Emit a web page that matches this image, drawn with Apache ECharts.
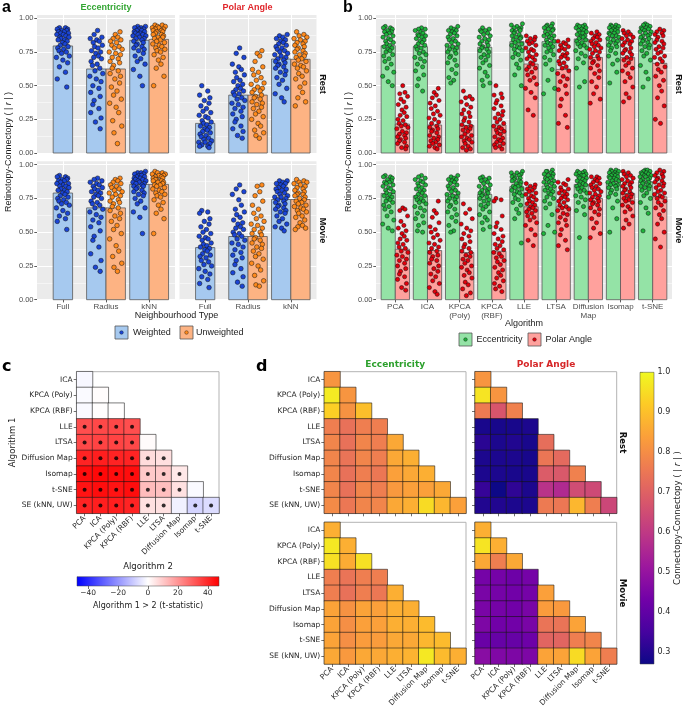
<!DOCTYPE html>
<html><head><meta charset="utf-8">
<script src="https://cdn.jsdelivr.net/npm/echarts@6/dist/echarts.min.js"></script>
<style>html,body{margin:0;padding:0;background:#fff}#c{width:685px;height:716px}</style>
</head><body><div id="c"></div>
<script>
// ---------------- DATA ----------------
const aCats = ['Full','Radius','kNN'];
const aRestEccW = [0.795,0.624,0.837];
const aRestEccU = [null,0.624,0.844];
const aRestPolW = [0.22,0.43,0.698];
const aRestPolU = [null,0.43,0.696];
const aMovEccW = [0.79,0.68,0.854];
const aMovEccU = [null,0.68,0.854];
const aMovPolW = [0.386,0.468,0.742];
const aMovPolU = [null,0.468,0.742];

// individual subject values, in percent of |r|
const aPtsRestEccW = [
 [93,93,92,92,91,91,90,90,89,89,88,88,87,86,86,85,84,84,83,82,81,80,79,78,77,76,75,74,72,71,69,67,64,60,55,49],
 [91,88,86,85,84,83,82,80,79,78,76,75,74,72,71,70,68,66,65,63,61,59,57,55,53,50,48,45,42,39,36,33,30,26,23,18],
 [94,94,93,93,92,92,91,91,90,90,89,89,88,88,87,87,86,85,85,84,83,82,81,80,79,78,77,76,74,72,70,68,66,62,57,50]];
const aPtsRestEccU = [[],
 [90,88,86,85,84,83,82,80,79,78,77,75,74,73,71,70,68,67,65,63,61,59,57,55,52,49,46,43,40,37,34,30,24,20,15,7],
 [95,95,94,94,93,93,92,92,91,91,90,90,89,88,88,87,86,86,85,84,83,82,81,80,79,78,77,76,75,73,71,69,66,63,57,50]];
const aPtsRestPolW = [
 [50,46,43,41,39,37,35,33,31,30,28,27,26,24,23,22,21,20,19,18,17,16,15,14,13,12,11,10,9,8,8,7,6,5,5,4],
 [78,74,71,66,64,62,60,58,56,54,53,51,50,48,47,46,45,44,43,41,40,39,37,36,34,33,31,29,27,25,23,20,18,16,13,11],
 [88,87,86,85,84,83,82,81,80,79,78,77,76,75,74,73,72,71,70,69,68,67,66,65,64,63,61,60,58,56,54,51,48,44,41,38]];
const aPtsRestPolU = [[],
 [76,74,72,68,64,62,60,58,56,54,52,51,49,48,47,46,45,43,42,41,40,38,37,36,34,33,31,29,27,25,22,20,17,15,13,11],
 [90,88,87,86,85,84,83,82,81,80,79,78,77,76,75,74,73,72,71,70,69,68,66,65,64,63,61,59,57,55,52,49,45,41,38,35]];
const aPtsMovEccW = [
 [92,91,91,90,89,89,88,88,87,86,86,85,84,84,83,82,81,81,80,79,78,77,76,75,74,73,72,71,70,68,66,64,62,60,58,52],
 [90,89,88,87,86,85,84,83,82,81,80,79,78,77,76,75,73,72,71,70,68,67,65,63,61,59,57,54,51,47,44,39,34,29,24,21],
 [95,94,94,93,93,92,92,91,91,90,90,89,89,88,88,87,87,86,86,85,84,84,83,82,81,80,79,78,77,75,73,71,68,65,61,49]];
const aPtsMovEccU = [[],
 [90,89,88,87,86,85,84,83,82,81,80,79,78,77,76,74,73,72,71,69,68,66,64,62,60,58,55,52,49,45,40,36,32,27,24,21],
 [95,94,94,93,93,92,92,91,91,90,90,89,89,88,88,87,87,86,85,85,84,83,82,81,80,79,78,77,76,74,72,70,67,64,60,49]];
const aPtsMovPolW = [
 [66,65,64,60,58,56,54,52,50,49,47,46,45,44,42,41,40,39,38,37,36,34,33,32,31,29,28,26,25,23,21,19,17,15,12,9],
 [85,82,80,78,74,70,67,65,63,61,59,57,56,54,53,52,50,49,48,47,45,44,42,41,39,37,35,33,31,29,26,23,20,17,13,10],
 [88,88,87,86,86,85,84,83,82,82,81,80,79,78,77,76,76,75,74,73,72,71,70,69,68,67,66,65,64,62,60,58,56,54,53,51]];
const aPtsMovPolU = [[],
 [85,84,80,77,73,70,67,64,62,60,58,56,55,53,52,50,49,48,46,45,44,42,41,39,38,36,34,32,30,27,25,22,18,14,11,10],
 [89,88,87,87,86,85,84,83,82,81,80,79,78,78,77,76,75,74,73,72,71,70,69,68,67,66,65,64,62,61,59,57,55,54,53,52]];

const bAlgos = ['PCA','ICA','KPCA (Poly)','KPCA (RBF)','LLE','LTSA','Diffusion Map','Isomap','t-SNE'];
const bTickLabels = ['PCA','ICA','KPCA\n(Poly)','KPCA\n(RBF)','LLE','LTSA','Diffusion\nMap','Isomap','t-SNE'];
const bRestEcc = [0.797,0.79,0.795,0.785,0.827,0.827,0.847,0.859,0.851];
const bRestPol = [0.215,0.208,0.205,0.208,0.661,0.621,0.71,0.71,0.666];
const bMovEcc = [0.787,0.77,0.78,0.78,0.837,0.842,0.854,0.874,0.874];
const bMovPol = [0.374,0.364,0.349,0.359,0.688,0.688,0.75,0.787,0.762];

const bPtsRestEcc = [
 [94,93,93,92,91,90,90,89,88,87,86,85,84,83,82,81,80,79,78,77,76,75,73,72,70,68,66,63,60,57,53,50],
 [93,92,92,91,90,89,88,87,87,86,85,84,83,82,81,80,79,78,77,75,74,73,71,70,68,66,64,61,58,55,50,46],
 [94,93,92,91,91,90,89,88,87,86,85,84,83,82,81,80,79,78,77,76,75,74,72,71,69,67,65,62,59,56,54,52],
 [93,92,91,91,90,89,88,87,86,85,84,83,82,81,80,79,78,77,76,75,73,72,71,69,67,65,63,60,57,54,52,50],
 [96,95,94,93,93,92,91,91,90,89,88,87,86,86,85,84,83,82,81,80,79,78,77,76,74,73,71,69,66,63,58,50],
 [96,95,94,94,93,92,92,91,90,89,88,87,87,86,85,84,83,82,81,80,79,78,76,75,73,71,69,66,62,54,48,44],
 [95,95,94,94,93,93,92,91,91,90,89,89,88,87,86,86,85,84,83,82,81,80,79,78,76,74,72,70,67,63,53,49],
 [95,95,94,94,93,93,92,92,91,91,90,89,89,88,87,87,86,85,84,83,82,81,80,79,78,76,74,72,69,66,60,52],
 [96,95,95,94,93,93,92,92,91,90,90,89,88,87,87,86,85,84,83,82,81,80,79,78,76,74,72,69,65,60,55,49]];
const bPtsRestPol = [
 [50,45,44,42,40,38,36,34,32,30,28,27,25,24,22,21,20,19,18,16,15,14,13,12,11,10,9,8,7,5,4,3],
 [48,45,43,41,39,37,35,33,31,29,28,26,25,23,22,20,19,18,17,16,15,13,12,11,10,9,8,7,6,5,4,3],
 [46,42,41,40,38,36,34,32,30,29,27,26,24,23,21,20,19,18,17,16,14,13,12,11,10,9,8,7,5,4,3,2],
 [50,44,43,41,39,37,35,33,31,29,28,26,25,23,22,20,19,18,17,16,15,14,12,11,10,9,8,7,6,5,4,3],
 [87,86,85,84,83,82,81,80,78,77,76,75,73,72,71,70,69,67,66,64,63,62,60,58,56,54,51,48,45,41,32,28],
 [84,83,82,81,80,79,78,77,76,74,73,72,71,70,68,67,66,64,63,61,59,57,55,53,50,47,44,40,35,28,22,19],
 [90,89,88,87,86,85,84,83,82,81,80,79,78,77,76,75,74,72,71,70,68,67,65,63,61,59,56,53,49,44,40,37],
 [91,90,89,88,87,86,85,84,83,82,81,80,78,77,76,75,74,73,71,70,69,67,65,63,61,59,56,53,49,44,41,38],
 [92,91,90,89,88,87,86,84,83,82,81,79,78,77,75,74,72,71,70,68,66,64,62,60,57,54,50,46,41,35,25,22]];
const bPtsMovEcc = [
 [92,91,91,90,89,88,87,87,86,85,84,83,82,81,80,79,78,77,76,75,74,73,72,70,69,67,65,62,59,56,53,51],
 [92,91,90,89,88,87,86,85,84,83,82,81,80,79,78,77,76,75,74,73,72,71,69,68,66,64,62,60,57,55,51,50],
 [92,91,90,89,89,88,87,86,85,84,83,82,81,80,79,78,77,76,75,74,73,72,70,69,67,65,63,61,58,55,51,50],
 [91,90,90,89,88,87,86,85,84,83,82,81,80,79,79,78,77,76,75,74,73,71,70,69,67,65,63,61,59,57,54,52],
 [95,94,94,93,92,92,91,90,90,89,88,88,87,86,85,84,84,83,82,81,80,79,78,77,75,74,72,70,67,64,60,42],
 [96,95,95,94,93,93,92,91,90,90,89,88,87,87,86,85,84,83,82,81,80,79,78,76,75,73,71,68,63,55,50,49],
 [95,95,94,94,93,93,92,92,91,90,90,89,88,88,87,86,85,85,84,83,82,81,80,79,77,76,74,72,69,66,63,46],
 [96,96,95,95,94,94,93,93,92,92,91,91,90,90,89,88,88,87,86,85,85,84,83,82,81,79,78,76,73,68,60,50],
 [96,96,95,95,94,94,93,93,92,92,91,91,90,89,89,88,87,87,86,85,84,84,83,82,81,79,77,75,72,68,64,51]];
const bPtsMovPol = [
 [68,67,66,62,58,55,53,51,49,47,45,44,42,41,39,38,36,35,33,32,30,29,27,25,23,21,19,17,15,12,9,7],
 [73,66,64,61,57,54,52,50,48,46,44,42,41,39,38,36,35,33,32,30,29,27,25,23,21,19,17,14,12,9,6,4],
 [71,67,64,60,56,53,51,49,47,45,43,41,39,38,36,35,33,32,30,29,27,25,24,22,20,18,16,13,11,8,5,3],
 [75,74,73,62,57,54,52,49,47,45,43,41,40,38,37,35,34,32,31,29,28,26,24,22,20,18,16,14,12,10,8,6],
 [86,85,84,83,82,81,80,79,78,77,76,75,74,73,72,71,70,69,68,67,66,65,64,62,61,59,57,55,52,48,44,40],
 [89,87,86,85,83,82,81,80,79,78,77,76,75,74,73,72,70,69,68,67,66,64,63,61,59,57,55,52,48,44,40,37],
 [91,91,90,89,88,87,86,85,84,83,82,81,80,79,78,77,76,75,74,73,72,71,70,68,67,65,63,60,57,53,49,46],
 [95,94,93,92,91,90,89,88,87,86,85,84,83,82,81,80,79,78,77,76,75,74,73,72,70,69,67,65,62,59,56,53],
 [96,95,94,93,92,91,90,89,88,87,86,85,84,83,81,80,79,78,77,76,75,73,72,70,68,66,63,60,56,50,45,39]];

// heatmaps (rows: algorithm 1, columns: algorithm 2; lower triangle)
const hmRows = ['ICA','KPCA (Poly)','KPCA (RBF)','LLE','LTSA','Diffusion Map','Isomap','t-SNE','SE (kNN, UW)'];
const hmCols = ['PCA','ICA','KPCA (Poly)','KPCA (RBF)','LLE','LTSA','Diffusion Map','Isomap','t-SNE'];
const cTstat = [
 [-1.5],
 [-1.0,0.5],
 [-1.2,0.3,0.2],
 [33,34,34,33],
 [34,35,35,34,0.8],
 [41,42,41,41,6.5,6],
 [45,46,45,45,10,10,4.3],
 [44,45,44,45,12.5,12,5.6,-1],
 [41,42,42,41,5.5,5.5,-2.7,-8,-6.5]];
const cSig = [
 [0],[0,0],[0,0,0],[1,1,1,1],[1,1,1,1,0],[1,1,1,1,1,1],[1,1,1,1,1,1,1],[1,1,1,1,1,1,1,0],[1,1,1,1,1,1,0,1,1]];
const dEccRest = [
 [0.817],
 [0.975,0.817],
 [0.927,0.81,0.898],
 [0.766,0.737,0.766,0.766],
 [0.781,0.737,0.781,0.766,0.854],
 [0.781,0.744,0.781,0.766,0.854,0.868],
 [0.781,0.737,0.766,0.752,0.839,0.854,0.868],
 [0.781,0.737,0.781,0.766,0.825,0.839,0.839,0.854],
 [0.795,0.752,0.781,0.781,0.854,0.868,0.949,0.883,0.839]];
const dEccMov = [
 [0.868],
 [0.97,0.868],
 [0.956,0.86,0.956],
 [0.766,0.744,0.766,0.766],
 [0.766,0.737,0.766,0.752,0.868],
 [0.846,0.81,0.846,0.839,0.868,0.868],
 [0.846,0.803,0.839,0.839,0.868,0.868,0.89],
 [0.846,0.803,0.832,0.832,0.854,0.854,0.883,0.89],
 [0.854,0.825,0.854,0.854,0.868,0.876,0.97,0.89,0.868]];
const dPolRest = [
 [0.817],
 [0.963,0.817],
 [0.759,0.671,0.773],
 [0.286,0.284,0.284,0.291],
 [0.31,0.291,0.298,0.286,0.73],
 [0.291,0.291,0.291,0.284,0.75,0.72],
 [0.291,0.291,0.286,0.286,0.686,0.68,0.773],
 [0.327,0.269,0.318,0.29,0.583,0.561,0.649,0.642],
 [0.298,0.298,0.291,0.291,0.759,0.752,0.883,0.766,0.635]];
const dPolMov = [
 [0.868],
 [0.963,0.868],
 [0.854,0.766,0.854],
 [0.437,0.437,0.423,0.437],
 [0.445,0.437,0.43,0.437,0.839],
 [0.445,0.437,0.43,0.445,0.832,0.825],
 [0.452,0.43,0.43,0.445,0.744,0.744,0.846],
 [0.415,0.41,0.41,0.423,0.708,0.708,0.766,0.781],
 [0.474,0.459,0.452,0.452,0.846,0.846,0.949,0.846,0.766]];
const cbarCTicks = [-40,-20,0,20,40];
const cbarDTicks = [0.3,0.4,0.5,0.6,0.7,0.8,0.9,1.0];
const yTicks = [0,0.25,0.5,0.75,1];

// ---------------- STYLE / LAYOUT ----------------
const FA='Liberation Sans', FD='DejaVu Sans';
const JIT=[-0.08,0.06,-0.13,0.11,-0.02,0.09,-0.10,0.03,-0.05,0.13,-0.14,0.01,0.07,-0.07,0.14,-0.04,0.04,-0.11,0.10,-0.01,0.05,-0.06,0.12,-0.12,0.02,-0.09,0.08,-0.03,0.15,-0.15,0.00,0.11,-0.08,0.06,-0.13,0.09,-0.05];
const BWR=['#0000ff','#ffffff','#ff0000'];
const PLASMA=['#0d0887','#46039f','#7201a8','#9c179e','#bd3786','#d8576b','#ed7953','#fb9f3a','#fdca26','#f0f921'];
const grids=[],xAxes=[],yAxes=[],series=[],graphics=[];
function addAxesGrid(g,x,y){grids.push(Object.assign({show:false,outerBoundsMode:'none',containLabel:false},g));const gi=grids.length-1;x.gridIndex=gi;y.gridIndex=gi;xAxes.push(x);yAxes.push(y);return gi;}

function barPanel(o){
  const n=o.cats.length, ticks=o.cats.map((c,i)=>i+1);
  const gi=addAxesGrid({left:o.left,top:o.top,width:o.width,height:o.height,show:true,backgroundColor:'#ebebeb',borderWidth:0},
   {type:'value',min:0.4,max:n+0.6,axisLine:{show:false},
    axisTick:{show:o.showX,customValues:ticks,length:2.7,lineStyle:{color:'#333',width:0.8}},
    axisLabel:{show:o.showX,customValues:ticks,formatter:v=>o.labels[Math.round(v)-1],fontSize:8,lineHeight:9,color:'#4d4d4d',margin:3,fontFamily:FA},
    splitLine:{show:true,lineStyle:{color:'#fff',width:1}}},
   {type:'value',min:0,max:1.025,interval:0.25,axisLine:{show:false},
    axisTick:{show:o.showY,customValues:yTicks,length:2.7,lineStyle:{color:'#333',width:0.8}},
    axisLabel:{show:o.showY,customValues:yTicks,formatter:v=>v.toFixed(2),fontSize:7.5,color:'#4d4d4d',margin:3.5,fontFamily:FA},
    splitLine:{show:true,lineStyle:{color:'#fff',width:1}},
    minorTick:{show:false,splitNumber:2},minorSplitLine:{show:true,lineStyle:{color:'#fff',width:0.5}}});
  const scat=[];
  o.groups.forEach((g,gk)=>{
    const bars=[],pts=[];
    g.means.forEach((m,ci)=>{
      if(m==null)return;
      const paired=o.groups.every(h=>h.means[ci]!=null);
      const xc=ci+1+(paired?g.off:0);
      bars.push([xc,m]);
      g.pts[ci].forEach((v,k)=>pts.push([xc+JIT[(k+ci*7+gk*11)%JIT.length]*o.jit,v/100]));
    });
    series.push({type:'custom',xAxisIndex:gi,yAxisIndex:gi,z:2,silent:true,animation:false,data:bars,encode:{x:0,y:1},
      renderItem:(p,api)=>{const x=api.value(0),y=api.value(1);const a=api.coord([x-o.bw/2,y]),b=api.coord([x+o.bw/2,0]);
        return {type:'rect',shape:{x:a[0],y:a[1],width:b[0]-a[0],height:b[1]-a[1]},style:{fill:g.barColor,stroke:'#5a5a5a',lineWidth:0.8}};}});
    scat.push({type:'scatter',xAxisIndex:gi,yAxisIndex:gi,z:3,silent:true,animation:false,data:pts,symbolSize:o.ps,
      itemStyle:{color:g.ptColor,borderColor:'#111',borderWidth:0.5,opacity:1}});
  });
  scat.forEach(s=>series.push(s));
}
const WB='#a6c9ef', UB='#fdb383', WP='#1b45d6', UP='#ff8a1c', GB='#94e3a6', RB='#ffa19d', GP='#1fb33c', RP='#e3000c';
function aPanel(left,top,w,h,mW,mU,pW,pU,showX,showY){
  barPanel({left,top,width:w,height:h,cats:aCats,labels:aCats,showX,showY,bw:0.45,jit:1.0,ps:4.6,
    groups:[{means:mW,pts:pW,off:-0.225,barColor:WB,ptColor:WP},{means:mU,pts:pU,off:0.225,barColor:UB,ptColor:UP}]});
}
aPanel(37,15,138,138,aRestEccW,aRestEccU,aPtsRestEccW,aPtsRestEccU,false,true);
aPanel(179.5,15,137,138,aRestPolW,aRestPolU,aPtsRestPolW,aPtsRestPolU,false,false);
aPanel(37,161.3,138,138.4,aMovEccW,aMovEccU,aPtsMovEccW,aPtsMovEccU,true,true);
aPanel(179.5,161.3,137,138.4,aMovPolW,aMovPolU,aPtsMovPolW,aPtsMovPolU,true,false);
function bPanel(top,h,mE,mP,pE,pP,showX){
  barPanel({left:376,top,width:296,height:h,cats:bAlgos,labels:bTickLabels,showX,showY:true,bw:0.44,jit:1.15,ps:4.2,
    groups:[{means:mE,pts:pE,off:-0.22,barColor:GB,ptColor:GP},{means:mP,pts:pP,off:0.22,barColor:RB,ptColor:RP}]});
}
bPanel(15,138,bRestEcc,bRestPol,bPtsRestEcc,bPtsRestPol,false);
bPanel(161.3,138.4,bMovEcc,bMovPol,bPtsMovEcc,bPtsMovPol,true);

function heatPanel(o){
  const gi=addAxesGrid({left:o.left,top:o.top,width:o.width,height:o.height,show:true,backgroundColor:'#fff',borderColor:'#b3b3b3',borderWidth:1},
   {type:'category',data:hmCols,axisLine:{show:false},axisTick:{show:true,alignWithLabel:true,length:3,lineStyle:{color:'#333',width:0.7}},
    axisLabel:{show:o.showX,rotate:45,interval:0,fontSize:7.5,color:'#262626',margin:4,fontFamily:FD},splitLine:{show:false}},
   {type:'category',data:hmRows,inverse:true,axisLine:{show:false},axisTick:{show:true,alignWithLabel:true,length:3,lineStyle:{color:'#333',width:0.7}},
    axisLabel:{show:o.showY,interval:0,fontSize:7.5,color:'#262626',margin:4,fontFamily:FD},splitLine:{show:false}});
  const data=[];o.vals.forEach((row,r)=>row.forEach((v,c)=>data.push([c,r,v])));
  series.push({type:'heatmap',xAxisIndex:gi,yAxisIndex:gi,data,silent:true,z:2,animation:false,
    itemStyle:{borderColor:'rgba(20,20,20,0.8)',borderWidth:0.7},emphasis:{disabled:true}});
  return {gi,si:series.length-1};
}
const hc=heatPanel({left:76.7,top:371.7,width:142.3,height:141.6,vals:cTstat,showX:true,showY:true});
const sigPts=[];cSig.forEach((row,r)=>row.forEach((s,c)=>{if(s)sigPts.push([c,r]);}));
series.push({type:'scatter',xAxisIndex:hc.gi,yAxisIndex:hc.gi,z:4,silent:true,animation:false,data:sigPts,symbolSize:4,itemStyle:{color:'#000'}});
const dSis=[];
dSis.push(heatPanel({left:324.3,top:371.7,width:141.7,height:141.6,vals:dEccRest,showX:false,showY:true}).si);
dSis.push(heatPanel({left:475,top:371.7,width:141.7,height:141.6,vals:dPolRest,showX:false,showY:false}).si);
dSis.push(heatPanel({left:324.3,top:522.3,width:141.7,height:141.7,vals:dEccMov,showX:true,showY:true}).si);
dSis.push(heatPanel({left:475,top:522.3,width:141.7,height:141.7,vals:dPolMov,showX:true,showY:false}).si);

// colorbar axes
addAxesGrid({left:77,top:576.7,width:142,height:9.3},
  {type:'value',min:-47.5,max:47.5,position:'bottom',axisLine:{show:false},
   axisTick:{show:true,customValues:cbarCTicks,length:3,lineStyle:{color:'#333',width:0.7}},
   axisLabel:{customValues:cbarCTicks,formatter:v=>v<0?'\u2212'+(-v):String(v),fontSize:7.5,color:'#262626',margin:3.5,fontFamily:FD},splitLine:{show:false}},
  {type:'value',show:false});
addAxesGrid({left:640,top:372.3,width:14,height:291.7},
  {type:'value',show:false},
  {type:'value',min:0.269,max:1.0,position:'right',axisLine:{show:false},
   axisTick:{show:true,customValues:cbarDTicks,length:3,lineStyle:{color:'#333',width:0.7}},
   axisLabel:{customValues:cbarDTicks,formatter:v=>v.toFixed(1),fontSize:8,color:'#262626',margin:3.5,fontFamily:FD},splitLine:{show:false}});
graphics.push({type:'rect',silent:true,z:1,shape:{x:77,y:576.7,width:142,height:9.3},
  style:{fill:{type:'linear',x:0,y:0,x2:1,y2:0,colorStops:BWR.map((c,i)=>({offset:i/(BWR.length-1),color:c}))},stroke:'#444',lineWidth:0.5}});
graphics.push({type:'rect',silent:true,z:1,shape:{x:640,y:372.3,width:14,height:291.7},
  style:{fill:{type:'linear',x:0,y:1,x2:0,y2:0,colorStops:PLASMA.map((c,i)=>({offset:i/(PLASMA.length-1),color:c}))},stroke:'#444',lineWidth:0.5}});

// texts
function txt(x,y,text,font,fill,align,rot,rich){
  graphics.push({type:'text',x,y,rotation:rot||0,silent:true,z:10,
    style:{text,font,fill:fill||'#000',align:align||'center',verticalAlign:'middle',textAlign:align||'center',textVerticalAlign:'middle',rich}});
}
const R90=Math.PI/2;
txt(2,7.5,'a','bold 16px '+FA,'#000','left');
txt(343,7.5,'b','bold 16px '+FA,'#000','left');
txt(2,366.5,'c','bold 16px '+FD,'#000','left');
txt(256,367,'d','bold 16px '+FD,'#000','left');
txt(106,7.4,'Eccentricity','bold 9px '+FA,'#34a634');
txt(247.5,7.4,'Polar Angle','bold 9px '+FA,'#e0262b');
txt(322.5,84,'Rest','bold 9px '+FA,'#111','center',-R90);
txt(322.5,230.5,'Movie','bold 9px '+FA,'#111','center',-R90);
txt(678,84,'Rest','bold 9px '+FA,'#111','center',-R90);
txt(678,230.5,'Movie','bold 9px '+FA,'#111','center',-R90);
const richA={r:{fontStyle:'italic',fontSize:9,fontFamily:FA}};
txt(8.5,152,'Retinotopy-Connectopy ( | {r|r} | )','9px '+FA,'#222','center',R90,richA);
txt(349,152,'Retinotopy-Connectopy ( | {r|r} | )','9px '+FA,'#222','center',R90,richA);
txt(176.5,315.5,'Neighbourhood Type','9px '+FA,'#222');
txt(524,323.3,'Algorithm','9px '+FA,'#222');
function legendKey(x,y,fill,dot){
  graphics.push({type:'rect',silent:true,z:10,shape:{x,y,width:13,height:13},style:{fill,stroke:'#555',lineWidth:0.8}});
  graphics.push({type:'circle',silent:true,z:11,shape:{cx:x+6.5,cy:y+6.5,r:1.8},style:{fill:dot,stroke:'#111',lineWidth:0.4}});
}
legendKey(115,326,WB,WP);txt(133,332.5,'Weighted','9px '+FA,'#222','left');
legendKey(180,326,UB,UP);txt(196,332.5,'Unweighted','9px '+FA,'#222','left');
legendKey(459,333,GB,GP);txt(476.5,339.5,'Eccentricity','9px '+FA,'#222','left');
legendKey(528,333,RB,RP);txt(545.5,339.5,'Polar Angle','9px '+FA,'#222','left');
txt(13,442.5,'Algorithm 1','8.5px '+FD,'#222','center',R90);
txt(148,567,'Algorithm 2','8.5px '+FD,'#222');
txt(148,606,'Algorithm 1 > 2 (t-statistic)','8px '+FD,'#222');
txt(395.2,364.5,'Eccentricity','bold 9px '+FD,'#2ca02c');
txt(546,364.5,'Polar Angle','bold 9px '+FD,'#d62728');
txt(622,442.5,'Rest','bold 8.5px '+FD,'#111','center',-R90);
txt(622,593,'Movie','bold 8.5px '+FD,'#111','center',-R90);
txt(677.5,518,'Connectopy-Connectopy ( | {r|r} | )','8.5px '+FD,'#222','center',R90,{r:{fontStyle:'italic',fontSize:8.5,fontFamily:FD}});

const chart=echarts.init(document.getElementById('c'),null,{renderer:'canvas'});
chart.setOption({
  animation:false,backgroundColor:'#fff',
  grid:grids,xAxis:xAxes,yAxis:yAxes,series,
  visualMap:[
    {type:'continuous',show:false,min:-47.5,max:47.5,dimension:2,seriesIndex:[hc.si],inRange:{color:BWR}},
    {type:'continuous',show:false,min:0.269,max:1.0,dimension:2,seriesIndex:dSis,inRange:{color:PLASMA}}
  ],
  graphic:{elements:graphics}
});
</script></body></html>
